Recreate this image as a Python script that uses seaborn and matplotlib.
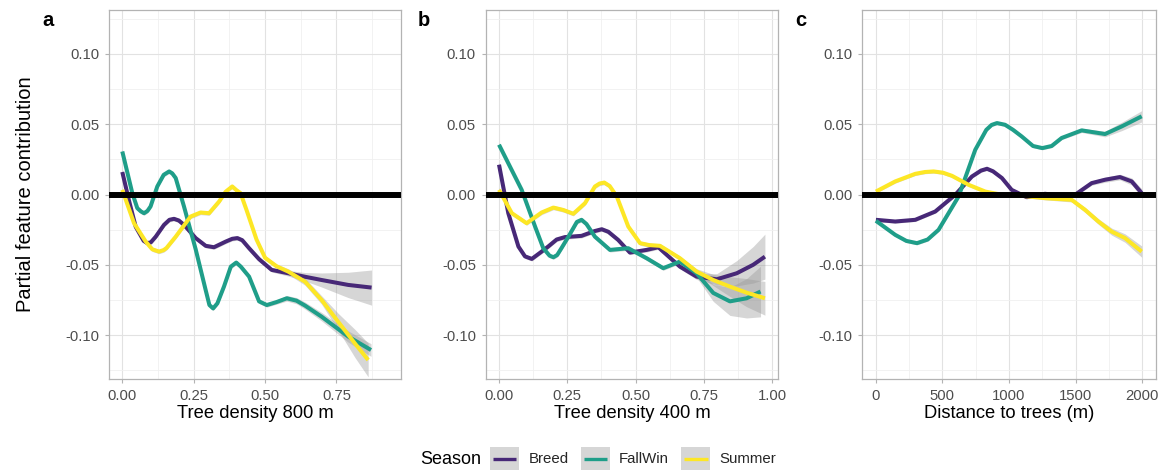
import numpy as np
import pandas as pd
import matplotlib
matplotlib.use("Agg")
import matplotlib.pyplot as plt
from matplotlib.patches import Rectangle
from matplotlib.lines import Line2D
from matplotlib.legend_handler import HandlerBase
from matplotlib.ticker import MultipleLocator
import seaborn as sns

# ---------------- data ----------------
SEASONS = ["Breed", "FallWin", "Summer"]
COLORS = ["#472877", "#1F9E89", "#FDE725"]

# Panel a: Tree density 800 m
A_BREED_X = [0.000, 0.023, 0.047, 0.075, 0.0875, 0.100, 0.117, 0.146, 0.165, 0.181, 0.198, 0.216, 0.257, 0.292, 0.321, 0.362, 0.385, 0.403, 0.420, 0.444, 0.479, 0.523, 0.581, 0.640, 0.698, 0.791, 0.873]
A_BREED_Y = [0.016, -0.004, -0.023, -0.033, -0.0346, -0.034, -0.030, -0.0216, -0.018, -0.0173, -0.0185, -0.0216, -0.031, -0.0365, -0.0375, -0.0335, -0.0315, -0.031, -0.0325, -0.0382, -0.046, -0.0536, -0.056, -0.0585, -0.0608, -0.0643, -0.0662]
A_BREED_SE = [0.0015] * 22 + [0.002, 0.003, 0.005, 0.009, 0.0125]

A_FALL_X = [0.000, 0.035, 0.0525, 0.065, 0.076, 0.088, 0.099, 0.1225, 0.145, 0.164, 0.175, 0.187, 0.216, 0.257, 0.292, 0.305, 0.318, 0.333, 0.356, 0.380, 0.399, 0.415, 0.444, 0.479, 0.506, 0.540, 0.576, 0.610, 0.640, 0.698, 0.791, 0.871]
A_FALL_Y = [0.0306, 0.001, -0.0097, -0.012, -0.0133, -0.0117, -0.0085, 0.0057, 0.014, 0.0164, 0.015, 0.0117, -0.0085, -0.039, -0.068, -0.0786, -0.081, -0.0774, -0.0655, -0.0513, -0.0484, -0.0513, -0.0584, -0.076, -0.0786, -0.0765, -0.0738, -0.0755, -0.079, -0.0869, -0.101, -0.1106]
A_FALL_SE = [0.0015] * 26 + [0.002, 0.0022, 0.0025, 0.003, 0.004, 0.0045]

A_SUMM_X = [0.000, 0.041, 0.082, 0.105, 0.1285, 0.145, 0.155, 0.187, 0.239, 0.274, 0.304, 0.339, 0.362, 0.385, 0.400, 0.414, 0.435, 0.470, 0.500, 0.540, 0.581, 0.640, 0.698, 0.756, 0.815, 0.861]
A_SUMM_Y = [0.0033, -0.0204, -0.0335, -0.039, -0.0406, -0.0395, -0.038, -0.030, -0.0157, -0.0128, -0.0133, -0.005, 0.002, 0.0057, 0.003, 0.001, -0.011, -0.032, -0.045, -0.051, -0.0548, -0.062, -0.075, -0.0905, -0.106, -0.1177]
A_SUMM_SE = [0.0015] * 20 + [0.002, 0.0025, 0.003, 0.006, 0.010, 0.012]

# Panel b: Tree density 400 m
B_BREED_X = [0.000, 0.034, 0.071, 0.095, 0.120, 0.156, 0.180, 0.211, 0.241, 0.302, 0.350, 0.376, 0.400, 0.436, 0.479, 0.540, 0.583, 0.620, 0.662, 0.723, 0.797, 0.870, 0.930, 0.973]
B_BREED_Y = [0.0212, -0.0133, -0.037, -0.044, -0.0458, -0.0406, -0.037, -0.032, -0.0303, -0.0294, -0.026, -0.0247, -0.0265, -0.0323, -0.0413, -0.0394, -0.0375, -0.044, -0.0513, -0.0584, -0.0603, -0.056, -0.050, -0.0442]
B_BREED_SE = [0.0015] * 19 + [0.002, 0.004, 0.009, 0.013, 0.016]

B_FALL_X = [0.000, 0.040, 0.083, 0.132, 0.162, 0.185, 0.199, 0.213, 0.229, 0.254, 0.285, 0.302, 0.320, 0.351, 0.406, 0.473, 0.540, 0.601, 0.662, 0.723, 0.784, 0.845, 0.906, 0.957]
B_FALL_Y = [0.0354, 0.0199, 0.0033, -0.0228, -0.0382, -0.0435, -0.0446, -0.043, -0.038, -0.030, -0.0195, -0.018, -0.021, -0.030, -0.0394, -0.0382, -0.0453, -0.0524, -0.0477, -0.056, -0.070, -0.076, -0.0738, -0.069]
B_FALL_SE = [0.0015] * 19 + [0.003, 0.006, 0.010, 0.014, 0.018]

B_SUMM_X = [0.000, 0.047, 0.101, 0.156, 0.199, 0.235, 0.272, 0.315, 0.351, 0.368, 0.385, 0.405, 0.431, 0.473, 0.516, 0.550, 0.589, 0.662, 0.723, 0.784, 0.845, 0.906, 0.973]
B_SUMM_Y = [0.0033, -0.0133, -0.0204, -0.0128, -0.0093, -0.011, -0.0137, -0.0061, 0.0057, 0.0078, 0.0085, 0.006, -0.0014, -0.0228, -0.0346, -0.036, -0.0365, -0.0453, -0.0548, -0.0608, -0.0655, -0.0698, -0.0738]
B_SUMM_SE = [0.0015] * 18 + [0.002, 0.004, 0.007, 0.010, 0.012]

# Panel c: Distance to trees (m)
C_BREED_X = [2, 147, 297, 447, 597, 722, 790, 835, 880, 947, 1020, 1132, 1270, 1407, 1495, 1620, 1720, 1832, 1920, 1995]
C_BREED_Y = [-0.018, -0.0192, -0.018, -0.0121, -0.0002, 0.0128, 0.0170, 0.0183, 0.0165, 0.0117, 0.0033, -0.0019, 0.0005, -0.0009, -0.0002, 0.0081, 0.0105, 0.0124, 0.0093, 0.001]
C_BREED_SE = [0.0012] * 15 + [0.0015, 0.0018, 0.002, 0.0025, 0.003]

C_FALL_X = [2, 147, 230, 310, 390, 472, 622, 747, 830, 870, 910, 970, 1030, 1095, 1180, 1250, 1320, 1395, 1545, 1720, 1845, 1995]
C_FALL_Y = [-0.0187, -0.0287, -0.033, -0.0346, -0.032, -0.0251, -0.0014, 0.0318, 0.046, 0.0495, 0.0508, 0.0496, 0.046, 0.0413, 0.0345, 0.033, 0.0345, 0.0402, 0.0456, 0.043, 0.0484, 0.0556]
C_FALL_SE = [0.0012] * 18 + [0.0015, 0.002, 0.003, 0.004]

C_SUMM_X = [2, 147, 297, 370, 435, 505, 572, 697, 822, 947, 1095, 1270, 1470, 1570, 1670, 1770, 1870, 1995]
C_SUMM_Y = [0.0021, 0.0093, 0.0147, 0.0160, 0.0164, 0.0155, 0.0133, 0.0069, 0.0021, -0.0002, -0.0009, -0.0026, -0.0038, -0.0109, -0.0192, -0.0264, -0.031, -0.0406]
C_SUMM_SE = [0.0012] * 12 + [0.0015, 0.0018, 0.002, 0.0025, 0.003, 0.004]

PANEL_LETTERS = ["a", "b", "c"]
X_TITLES = ["Tree density 800 m", "Tree density 400 m", "Distance to trees (m)"]
X_TICKS = [[0.0, 0.25, 0.5, 0.75], [0.0, 0.25, 0.5, 0.75, 1.0], [0, 500, 1000, 1500, 2000]]
X_TICKLABELS = [["0.00", "0.25", "0.50", "0.75"], ["0.00", "0.25", "0.50", "0.75", "1.00"],
                ["0", "500", "1000", "1500", "2000"]]
X_LIMS = [(-0.0466, 0.976), (-0.0487, 1.022), (-100, 2100)]
X_MINOR = [0.125, 0.125, 250]
Y_TICKS = [-0.10, -0.05, 0.0, 0.05, 0.10]
Y_TICKLABELS = ["-0.10", "-0.05", "0.00", "0.05", "0.10"]
Y_LIM = (-0.1312, 0.1312)
Y_TITLE = "Partial feature contribution"
LEGEND_TITLE = "Season"

PANELS = [
    [(A_BREED_X, A_BREED_Y, A_BREED_SE), (A_FALL_X, A_FALL_Y, A_FALL_SE), (A_SUMM_X, A_SUMM_Y, A_SUMM_SE)],
    [(B_BREED_X, B_BREED_Y, B_BREED_SE), (B_FALL_X, B_FALL_Y, B_FALL_SE), (B_SUMM_X, B_SUMM_Y, B_SUMM_SE)],
    [(C_BREED_X, C_BREED_Y, C_BREED_SE), (C_FALL_X, C_FALL_Y, C_FALL_SE), (C_SUMM_X, C_SUMM_Y, C_SUMM_SE)],
]

# ---------------- style ----------------
sns.set_theme(style="white")
plt.rcParams["font.family"] = ["Liberation Sans", "DejaVu Sans"]

W, H = 1169, 473
fig = plt.figure(figsize=(W / 100, H / 100), dpi=100)

axes_px = [(109, 401), (485.7, 778.3), (862.3, 1155.7)]
top_px, bot_px = 10, 379
letter_x = [42, 418, 795]

LINE_W = 2.9
TICK_COLOR = "#4D4D4D"
BORDER = "#B3B3B3"

palette = dict(zip(SEASONS, COLORS))

for i, series in enumerate(PANELS):
    l, r = axes_px[i]
    ax = fig.add_axes([l / W, 1 - bot_px / H, (r - l) / W, (bot_px - top_px) / H])
    frames = []
    for s, (xs, ys, se) in zip(SEASONS, series):
        se = list(se)[:len(xs)] + [se[-1]] * max(0, len(xs) - len(se))
        frames.append(pd.DataFrame({"x": xs, "y": ys, "se": se, "Season": s}))
    df = pd.concat(frames, ignore_index=True)

    # grey confidence ribbons
    for s in SEASONS:
        d = df[df["Season"] == s]
        ax.fill_between(d["x"], d["y"] - d["se"], d["y"] + d["se"],
                        color="#999999", alpha=0.4, lw=0, zorder=2)

    sns.lineplot(data=df, x="x", y="y", hue="Season", palette=palette,
                 estimator=None, sort=False, lw=LINE_W, legend=False, ax=ax, zorder=3)
    for ln in ax.lines:
        ln.set_solid_capstyle("butt")
        ln.set_solid_joinstyle("round")

    ax.axhline(0, color="black", lw=4.3, zorder=4)

    ax.set_xlim(*X_LIMS[i])
    ax.set_ylim(*Y_LIM)
    ax.set_xticks(X_TICKS[i])
    ax.set_xticklabels(X_TICKLABELS[i])
    ax.set_yticks(Y_TICKS)
    ax.set_yticklabels(Y_TICKLABELS)
    ax.xaxis.set_minor_locator(MultipleLocator(X_MINOR[i]))
    ax.yaxis.set_minor_locator(MultipleLocator(0.025))
    ax.grid(which="major", color="#E2E2E2", lw=0.8, zorder=0)
    ax.grid(which="minor", color="#F0F0F0", lw=0.6, zorder=0)
    ax.set_axisbelow(True)
    for sp in ax.spines.values():
        sp.set_color(BORDER)
        sp.set_linewidth(0.9)
        sp.set_visible(True)
    ax.tick_params(axis="both", which="major", length=3, width=0.8, color=BORDER,
                   labelsize=10.7, labelcolor=TICK_COLOR, pad=4, direction="out",
                   bottom=True, left=True)
    ax.tick_params(axis="both", which="minor", length=0)
    ax.set_xlabel(X_TITLES[i], fontsize=13.2, color="black", labelpad=2)
    if i == 0:
        ax.set_ylabel(Y_TITLE, fontsize=14.5, color="black", labelpad=22)
    else:
        ax.set_ylabel("")
    fig.text(letter_x[i] / W, 1 - 20 / H, PANEL_LETTERS[i], fontsize=14.5,
             fontweight="bold", ha="left", va="center", color="black")


# ---------------- legend ----------------
class KeyHandler(HandlerBase):
    def create_artists(self, legend, orig_handle, xdescent, ydescent, width, height, fontsize, trans):
        rect = Rectangle((-xdescent, -ydescent), width, height, fc="#D6D6D6", ec="none",
                         transform=trans)
        y = -ydescent + height / 2
        ln = Line2D([-xdescent + 0.1 * width, -xdescent + 0.9 * width], [y, y],
                    color=orig_handle.get_color(), lw=orig_handle.get_linewidth(),
                    solid_capstyle="butt", transform=trans)
        return [rect, ln]


handles = [Line2D([], [], color=c, lw=2.4) for c in COLORS]
leg = fig.legend(handles, SEASONS, loc="center left",
                 bbox_to_anchor=(490 / W, 1 - 458.5 / H), ncol=3, frameon=False,
                 fontsize=10.8, handlelength=1.95, handleheight=1.95, handletextpad=0.62,
                 columnspacing=0.8, borderpad=0, borderaxespad=0,
                 handler_map={Line2D: KeyHandler()})
fig.text(451 / W, 1 - 459 / H, LEGEND_TITLE, fontsize=13, ha="center", va="center", color="black")

fig.savefig("out.png", dpi=100)
